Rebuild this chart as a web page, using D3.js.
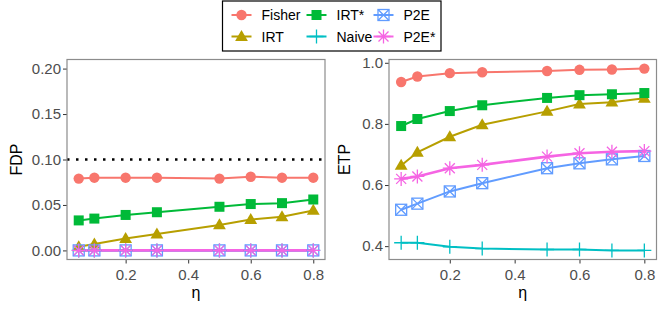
<!DOCTYPE html>
<html>
<head>
<meta charset="utf-8">
<script src="https://cdn.jsdelivr.net/npm/d3@7"></script>
<style>
  body { margin: 0; background: #fff; }
  svg { display: block; font-family: "Liberation Sans", Arial, sans-serif; }
</style>
</head>
<body>
<svg id="chart" width="664" height="309"></svg>
<script>
// eta values on the x axis
var eta = [0.05, 0.1, 0.2, 0.3, 0.5, 0.6, 0.7, 0.8];

var methods = ["Fisher", "IRT", "IRT*", "Naive", "P2E", "P2E*"];
var colors = ["#F8766D", "#B79F00", "#00BA38", "#00BFC4", "#619CFF", "#F564E3"];
var shapes = ["circle", "triangle", "square", "plus", "squareX", "star"];

// FDP panel
var fdpFisher = [0.079, 0.080, 0.080, 0.080, 0.079, 0.081, 0.080, 0.080];
var fdpIRT = [0.004, 0.007, 0.013, 0.018, 0.028, 0.034, 0.037, 0.044];
var fdpIRTstar = [0.033, 0.035, 0.039, 0.042, 0.048, 0.051, 0.052, 0.056];
var fdpNaive = [0, 0, 0, 0, 0, 0, 0, 0];
var fdpP2E = [0, 0, 0, 0, 0, 0, 0, 0];
var fdpP2Estar = [0, 0, 0, 0, 0, 0, 0, 0];

// ETP panel
var etpFisher = [0.937, 0.955, 0.966, 0.969, 0.973, 0.977, 0.978, 0.981];
var etpIRT = [0.664, 0.707, 0.758, 0.797, 0.841, 0.865, 0.871, 0.884];
var etpIRTstar = [0.793, 0.816, 0.842, 0.861, 0.885, 0.894, 0.897, 0.901];
var etpNaive = [0.411, 0.411, 0.398, 0.392, 0.389, 0.389, 0.386, 0.386];
var etpP2E = [0.519, 0.539, 0.579, 0.606, 0.655, 0.671, 0.684, 0.695];
var etpP2Estar = [0.620, 0.628, 0.655, 0.666, 0.693, 0.704, 0.709, 0.711];

var fdpTicks = [0, 0.05, 0.1, 0.15, 0.2];
var etpTicks = [0.4, 0.6, 0.8, 1.0];
var etaTicks = [0.2, 0.4, 0.6, 0.8];
var fdpTarget = 0.1;

var svg = d3.select("#chart");

function expand(lo, hi) {
    var pad = (hi - lo) * 0.05;
    return [lo - pad, hi + pad];
}

/**
 * Draw a marker of the given shape at (0,0) into group g
 */
function drawShape(g, shape, color) {
    if (shape === "circle") {
        g.append("circle").attr("r", 5.2).attr("fill", color);
    } else if (shape === "triangle") {
        g.append("path").attr("d", "M0,-6.6L6.4,4.4L-6.4,4.4Z").attr("fill", color);
    } else if (shape === "square") {
        g.append("rect").attr("x", -5).attr("y", -5).attr("width", 10).attr("height", 10).attr("fill", color);
    } else if (shape === "plus") {
        g.append("path").attr("d", "M-7,0H7M0,-7V7").attr("stroke", color).attr("stroke-width", 1.3);
    } else if (shape === "squareX") {
        g.append("rect").attr("x", -5.5).attr("y", -5.5).attr("width", 11).attr("height", 11)
            .attr("fill", "none").attr("stroke", color).attr("stroke-width", 1.3);
        g.append("path").attr("d", "M-5.5,-5.5L5.5,5.5M5.5,-5.5L-5.5,5.5")
            .attr("stroke", color).attr("stroke-width", 1.3);
    } else if (shape === "star") {
        g.append("path").attr("d", "M-7,0H7M0,-7V7M-5,-5L5,5M5,-5L-5,5")
            .attr("stroke", color).attr("stroke-width", 1.3);
    }
}

/**
 * One panel: box, axes, lines and points
 */
function panel(opts) {
    var x = d3.scaleLinear().domain(expand(0.05, 0.8)).range([opts.x0, opts.x1]);
    var y = d3.scaleLinear().domain(opts.ydomain).range([opts.y1, opts.y0]);

    var xAxis = svg.append("g")
        .attr("transform", "translate(0," + opts.y1 + ")")
        .call(d3.axisBottom(x).tickValues(etaTicks).tickSize(4).tickPadding(2).tickFormat(d3.format(".1f")));
    var yAxis = svg.append("g")
        .attr("transform", "translate(" + opts.x0 + ",0)")
        .call(d3.axisLeft(y).tickValues(opts.yticks).tickSize(4).tickPadding(2).tickFormat(d3.format(opts.yfmt)));
    [xAxis, yAxis].forEach(function (a) {
        a.select(".domain").remove();
        a.selectAll("line").attr("stroke", "#333").attr("stroke-width", 1);
        a.selectAll("text").attr("fill", "#4d4d4d").style("font-size", "15px");
    });
    xAxis.selectAll("text").attr("dy", "0.95em");

    if (opts.target !== undefined) {
        svg.append("line")
            .attr("x1", opts.x0).attr("x2", opts.x1)
            .attr("y1", y(opts.target)).attr("y2", y(opts.target))
            .attr("stroke", "#000").attr("stroke-width", 2.5)
            .attr("stroke-dasharray", "2.5,6.5");
    }

    var line = d3.line()
        .x(function (d, i) { return x(eta[i]); })
        .y(function (d) { return y(d); });

    opts.series.forEach(function (s, k) {
        svg.append("path")
            .attr("d", line(s))
            .attr("fill", "none")
            .attr("stroke", colors[k])
            .attr("stroke-width", k === 5 ? 2.6 : 2);
    });

    opts.series.forEach(function (s, k) {
        s.forEach(function (v, i) {
            var g = svg.append("g").attr("transform", "translate(" + x(eta[i]) + "," + y(v) + ")");
            drawShape(g, shapes[k], colors[k]);
        });
    });

    svg.append("rect")
        .attr("x", opts.x0).attr("y", opts.y0)
        .attr("width", opts.x1 - opts.x0).attr("height", opts.y1 - opts.y0)
        .attr("fill", "none").attr("stroke", "#8c8c8c").attr("stroke-width", 1.2);

    svg.append("text")
        .attr("transform", "translate(" + opts.labelX + "," + ((opts.y0 + opts.y1) / 2) + ") rotate(-90)")
        .attr("text-anchor", "middle")
        .attr("dy", "0.36em")
        .style("font-size", "16px")
        .text(opts.ylabel);

    svg.append("text")
        .attr("x", (opts.x0 + opts.x1) / 2)
        .attr("y", 298)
        .attr("text-anchor", "middle")
        .style("font-size", "16px")
        .text("η");
}

panel({
    x0: 67, x1: 325, y0: 59.5, y1: 259.5,
    ydomain: expand(0, 0.2), yticks: fdpTicks, yfmt: ".2f",
    series: [fdpFisher, fdpIRT, fdpIRTstar, fdpNaive, fdpP2E, fdpP2Estar],
    target: fdpTarget, ylabel: "FDP", labelX: 16
});

var etpAll = [].concat(etpFisher, etpIRT, etpIRTstar, etpNaive, etpP2E, etpP2Estar);
panel({
    x0: 389, x1: 656.5, y0: 59.5, y1: 259.5,
    ydomain: expand(d3.min(etpAll), d3.max(etpAll)), yticks: etpTicks, yfmt: ".1f",
    series: [etpFisher, etpIRT, etpIRTstar, etpNaive, etpP2E, etpP2Estar],
    ylabel: "ETP", labelX: 344
});

// legend
var legend = svg.append("g");
legend.append("rect")
    .attr("x", 222.5).attr("y", 1).attr("width", 218.5).attr("height", 50)
    .attr("fill", "#fff").attr("stroke", "#000").attr("stroke-width", 1.2);

var colX = [241.5, 316.5, 383.5];
var rowY = [15, 36.5];
methods.forEach(function (m, k) {
    var cx = colX[Math.floor(k / 2)], cy = rowY[k % 2];
    var g = legend.append("g").attr("transform", "translate(" + cx + "," + cy + ")");
    g.append("line").attr("x1", -10).attr("x2", 10)
        .attr("stroke", colors[k]).attr("stroke-width", 2);
    drawShape(g, shapes[k], colors[k]);
    legend.append("text")
        .attr("x", cx + 20).attr("y", cy)
        .attr("dy", "0.36em")
        .style("font-size", "14px")
        .text(m);
});
</script>
</body>
</html>
